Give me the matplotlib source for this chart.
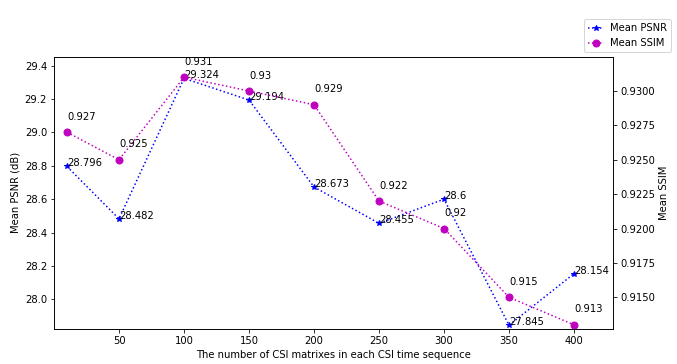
import matplotlib
matplotlib.use('Agg')
import matplotlib.pyplot as plt

seq_len = [10, 50, 100, 150, 200, 250, 300, 350, 400]
psnr = [28.796, 28.482, 29.324, 29.194, 28.673, 28.455, 28.6, 27.845, 28.154]
ssim = [0.927, 0.925, 0.931, 0.93, 0.929, 0.922, 0.92, 0.915, 0.913]
xticks = [50, 100, 150, 200, 250, 300, 350, 400]

fig = plt.figure(figsize=(677 / 72, 364 / 72), dpi=72)
ax = fig.add_axes([0.0798, 0.0975, 0.8257, 0.7459])
ax2 = ax.twinx()

l1, = ax.plot(seq_len, psnr, 'b*:', label='Mean PSNR')
l2, = ax2.plot(seq_len, ssim, 'mo:', markersize=7, label='Mean SSIM')

for x, y in zip(seq_len, psnr):
    ax.text(x, y, str(y))
for x, y in zip(seq_len, ssim):
    ax2.text(x, y + 0.0009, str(y))

ax.set_xlim(0, 430)
ax.set_xticks(xticks)
ax.set_ylim(27.825, 29.452)
ax2.set_ylim(0.91273, 0.93247)

ax.set_xlabel('The number of CSI matrixes in each CSI time sequence')
ax.set_ylabel('Mean PSNR (dB)')
ax2.set_ylabel('Mean SSIM')

fig.legend(handles=[l1, l2], loc='upper left', bbox_to_anchor=(0.858, 0.955),
           handlelength=1.6, handletextpad=0.6, borderaxespad=0.3)

fig.savefig('out.png', dpi=72)
